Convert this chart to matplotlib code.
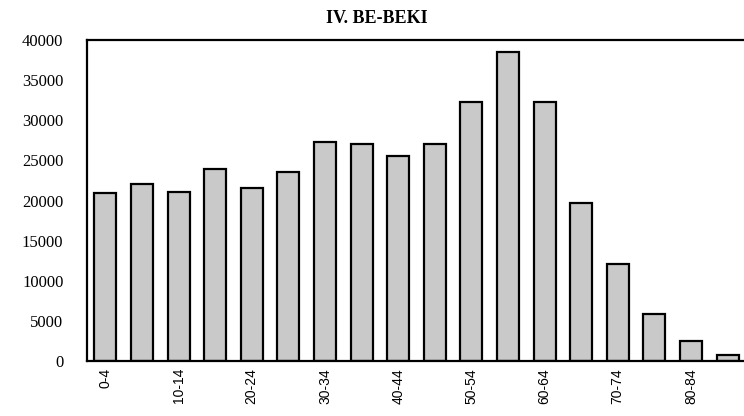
import matplotlib.pyplot as plt
import numpy as np

# age groups and population counts
ages = ["0-4", "5-9", "10-14", "15-19", "20-24", "25-29", "30-34", "35-39",
        "40-44", "45-49", "50-54", "55-59", "60-64", "65-69", "70-74",
        "75-79", "80-84", "85+"]
pop = [20900, 22100, 21100, 23900, 21500, 23500, 27300, 27100,
       25600, 27000, 32300, 38500, 32300, 19700, 12100, 5900, 2500, 800]
yticks = [0, 5000, 10000, 15000, 20000, 25000, 30000, 35000, 40000]

fig = plt.figure(figsize=(7.44, 4.16), dpi=100)
ax = fig.add_axes([0.117, 0.132, 0.883, 0.772])

x = np.arange(len(ages))
ax.bar(x, pop, width=0.6, color="#c9c9c9", edgecolor="black", linewidth=1.6)

ax.set_xlim(-0.5, 17.45)
ax.set_ylim(0, 40000)
ax.set_yticks(yticks)
ax.set_yticklabels([str(v) for v in yticks], family="Liberation Serif", fontsize=12)
ax.set_xticks(x[::2])
ax.set_xticklabels(ages[::2], rotation=90, family="Liberation Sans", fontsize=10,
                   va="top")
ax.tick_params(axis="y", length=0, pad=17)
ax.tick_params(axis="x", length=0, pad=5)

ax.spines["right"].set_visible(False)
for s in ["left", "top", "bottom"]:
    ax.spines[s].set_linewidth(1.6)

fig.text(0.507, 0.955, "IV. BE-BEKI", ha="center", va="center",
         family="Liberation Serif", fontweight="bold", fontsize=13)

fig.savefig("out.png", dpi=100)
